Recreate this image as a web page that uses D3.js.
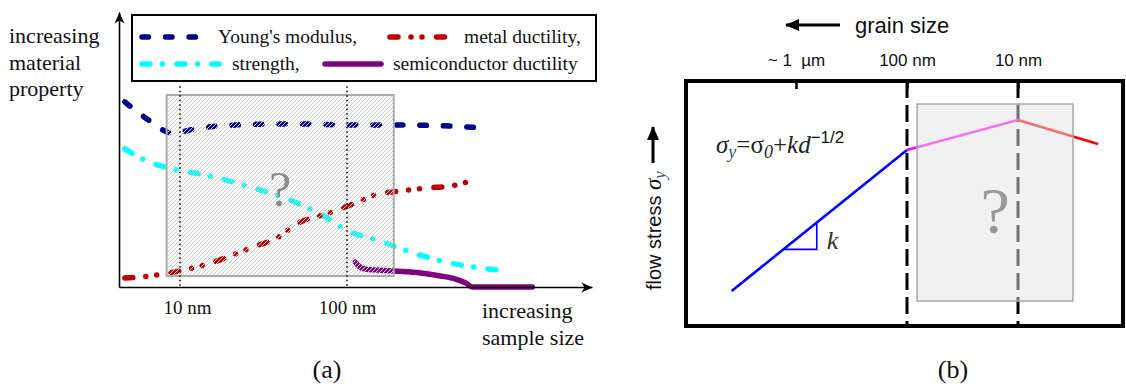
<!DOCTYPE html>
<meta charset="utf-8">
<style>
  body { margin: 0; background: #fff; }
  svg { display: block; }
  .serif { font-family: "Liberation Serif", "Times New Roman", serif; fill: #111; }
  .sans { font-family: "Liberation Sans", Arial, sans-serif; fill: #111; }
  .curve { fill: none; stroke-width: 5.5px; stroke-linecap: round; stroke-linejoin: round; }
</style>
<svg width="1126" height="387"></svg>
<script src="https://d3js.org/d3.v7.min.js"></script>
<script>

// ---------- panel (a) data: x = log10(sample size / nm), y = property (arb. units)
var youngX = [0.67, 0.82, 0.95, 1.12, 1.42, 1.72, 2.02, 2.32, 2.62, 2.84];
var youngY = [67.3, 60.4, 56.0, 57.8, 59.1, 59.3, 58.9, 58.9, 58.5, 57.8];

var strengthX = [0.67, 0.79, 0.93, 1.12, 1.42, 1.66, 1.84, 2.02, 2.20, 2.38, 2.62, 2.80, 2.96];
var strengthY = [50.2, 46.2, 43.3, 41.1, 36.4, 31.6, 26.5, 20.0, 16.7, 12.7, 8.7, 6.9, 5.8];

var metalX = [0.67, 0.82, 0.97, 1.12, 1.27, 1.42, 1.57, 1.72, 1.87, 2.02, 2.17, 2.32, 2.47, 2.62, 2.76];
var metalY = [3.3, 4.0, 5.5, 7.6, 10.5, 14.2, 17.5, 23.6, 26.5, 29.8, 33.5, 34.9, 36.0, 36.7, 38.9];

var semiX = [2.05, 2.07, 2.11, 2.28, 2.44, 2.56, 2.65, 2.71, 2.75, 3.11];
var semiY = [9.1, 7.6, 6.5, 5.8, 5.1, 4.0, 2.9, 1.5, 0, 0];

var legendLabels = ["Young's modulus,", "metal ductility,", "strength,", "semiconductor ductility"];
var sizeTicks = [1, 2];
var sizeTickLabels = ["10 nm", "100 nm"];
var unknownA = {x0: 0.92, x1: 2.28, y0: 4.0, y1: 69.8};

// ---------- panel (b) data: x = grain size (nm), y = flow stress (arb. units)
var grainSize = [3800, 100, 10, 1.9];
var flowStress = [14.3, 71.8, 84.1, 74.3];
var segmentColors = ["#0000ff", "#ff00ff", "#ff0000"];
var grainTicks = [1000, 100, 10];
var grainTickLabels = ["~ 1  \u00b5m", "100 nm", "10 nm"];
var slopeTri = [1300, 650];
var unknownB = {x0: 81, x1: 3.2, y0: 10.2, y1: 90.6};

var svg = d3.select("svg");

var defs = svg.append("defs");
defs.append("marker")
    .attr("id", "arrA")
    .attr("viewBox", "-1 -6 13 12")
    .attr("refX", 11).attr("refY", 0)
    .attr("markerWidth", 13).attr("markerHeight", 12)
    .attr("markerUnits", "userSpaceOnUse")
    .attr("orient", "auto")
  .append("path")
    .attr("d", "M0,-5L11,0L0,5L3,0Z")
    .attr("fill", "#000");
defs.append("marker")
    .attr("id", "arrB")
    .attr("viewBox", "0 -7 14 14")
    .attr("refX", 13).attr("refY", 0)
    .attr("markerWidth", 14).attr("markerHeight", 14)
    .attr("markerUnits", "userSpaceOnUse")
    .attr("orient", "auto")
  .append("path")
    .attr("d", "M0,-6L14,0L0,6Z")
    .attr("fill", "#000");
var hatch = defs.append("pattern")
    .attr("id", "hatch")
    .attr("patternUnits", "userSpaceOnUse")
    .attr("width", 4).attr("height", 4);
hatch.append("path")
    .attr("d", "M-1,1l2,-2M0,4l4,-4M3,5l2,-2")
    .attr("stroke", "#cfcfcf")
    .attr("stroke-width", 1);

// ================= panel (a) =================
var xa = d3.scaleLinear().domain([0.635, 3.467]).range([119, 592]),
    ya = d3.scaleLinear().domain([0, 100]).range([287, 12]);

var gA = svg.append("g");

var lineA = d3.line()
    .x(function(d) { return xa(d[0]); })
    .y(function(d) { return ya(d[1]); })
    .curve(d3.curveMonotoneX);

function zip(xs, ys) { return xs.map(function(v, i) { return [v, ys[i]]; }); }

var seriesA = [
  {x: strengthX, y: strengthY, color: "#00ffff", dash: "8,12.5,0,14.5"},
  {x: metalX, y: metalY, color: "#c00000", dash: "8,13,0,11,0,14.5"},
  {x: youngX, y: youngY, color: "#00008b", dash: "6.5,17"},
  {x: semiX, y: semiY, color: "#800080", dash: null}
];

gA.selectAll("path.curve")
  .data(seriesA)
  .enter().append("path")
    .attr("class", "curve")
    .attr("d", function(s) { return lineA(zip(s.x, s.y)); })
    .style("stroke", function(s) { return s.color; })
    .style("stroke-dasharray", function(s) { return s.dash; });

// hatched "unknown" region
gA.append("rect")
    .attr("x", xa(unknownA.x0))
    .attr("y", ya(unknownA.y1))
    .attr("width", xa(unknownA.x1) - xa(unknownA.x0))
    .attr("height", ya(unknownA.y0) - ya(unknownA.y1))
    .attr("fill", "url(#hatch)")
    .attr("stroke", "#aaa")
    .attr("stroke-width", 2);

gA.append("text")
    .attr("class", "serif")
    .attr("x", xa((unknownA.x0 + unknownA.x1) / 2))
    .attr("y", 206)
    .attr("text-anchor", "middle")
    .style("font-size", "50px")
    .style("fill", "#8a8a8a")
    .text("?");

// dotted reference lines at 10 nm and 100 nm
gA.selectAll("line.ref")
  .data(sizeTicks)
  .enter().append("line")
    .attr("class", "ref")
    .attr("x1", function(d) { return xa(d); })
    .attr("x2", function(d) { return xa(d); })
    .attr("y1", ya(73))
    .attr("y2", ya(0))
    .attr("stroke", "#000")
    .attr("stroke-width", 1.5)
    .attr("stroke-dasharray", "1.5,3");

// axes
var xAxisA = d3.axisBottom(xa)
    .tickValues(sizeTicks)
    .tickFormat(function(d, i) { return sizeTickLabels[i]; })
    .tickSize(0).tickSizeOuter(0).tickPadding(14);
var gx = gA.append("g").attr("transform", "translate(0," + ya(0) + ")").call(xAxisA);
gx.select(".domain").attr("stroke-width", 1.6).attr("marker-end", "url(#arrA)");
gx.selectAll("text")
    .attr("class", "serif")
    .style("font-size", "19px")
    .attr("dx", function(d, i) { return i === 0 ? 7 : 0; });

var yAxisA = d3.axisLeft(ya).tickValues([]).tickSizeOuter(0);
var gy = gA.append("g").attr("transform", "translate(" + xa.range()[0] + ",0)").call(yAxisA);
gy.select(".domain").attr("stroke-width", 1.6).attr("marker-end", "url(#arrA)");

// axis titles
var yTitle = gA.append("text").attr("class", "serif").style("font-size", "22px");
["increasing", "material", "property"].forEach(function(t, i) {
  yTitle.append("tspan").attr("x", 9).attr("y", 43 + i * 26.5).text(t);
});
var xTitle = gA.append("text").attr("class", "serif").style("font-size", "22px");
["increasing", "sample size"].forEach(function(t, i) {
  xTitle.append("tspan").attr("x", 482).attr("y", 318 + i * 27).text(t);
});

// legend
gA.append("rect")
    .attr("x", 132).attr("y", 15)
    .attr("width", 464).attr("height", 66)
    .attr("fill", "#fff")
    .attr("stroke", "#000")
    .attr("stroke-width", 2);

var legendItems = [
  {s: seriesA[2], x1: 142, x2: 199, y: 37, tx: 218},
  {s: seriesA[1], x1: 390, x2: 447, y: 37, tx: 464},
  {s: seriesA[0], x1: 142, x2: 219, y: 64, tx: 232},
  {s: seriesA[3], x1: 325, x2: 381, y: 64, tx: 393}
];
var leg = gA.selectAll("g.legend")
  .data(legendItems)
  .enter().append("g")
    .attr("class", "legend");
leg.append("line")
    .attr("class", "curve")
    .attr("x1", function(d) { return d.x1; })
    .attr("x2", function(d) { return d.x2; })
    .attr("y1", function(d) { return d.y; })
    .attr("y2", function(d) { return d.y; })
    .style("stroke", function(d) { return d.s.color; })
    .style("stroke-dasharray", function(d) { return d.s.dash; });
leg.append("text")
    .attr("class", "serif")
    .attr("x", function(d) { return d.tx; })
    .attr("y", function(d) { return d.y + 6; })
    .style("font-size", "19.5px")
    .text(function(d, i) { return legendLabels[i]; });

gA.append("text")
    .attr("class", "serif")
    .attr("x", 327).attr("y", 378)
    .attr("text-anchor", "middle")
    .style("font-size", "26px")
    .text("(a)");

// ================= panel (b) =================
var xb = d3.scaleLog().domain([1000, 100]).range([796, 907]),
    yb = d3.scaleLinear().domain([0, 100]).range([326, 81]);

var gB = svg.append("g");
var frame = {x0: 686, x1: 1123};

// dashed boundaries at 100 nm and 10 nm
gB.selectAll("line.bound")
  .data([100, 10])
  .enter().append("line")
    .attr("class", "bound")
    .attr("x1", function(d) { return xb(d); })
    .attr("x2", function(d) { return xb(d); })
    .attr("y1", yb(100))
    .attr("y2", yb(0))
    .attr("stroke", "#000")
    .attr("stroke-width", 3)
    .attr("stroke-dasharray", "17,7");

// flow stress segments
var pts = zip(grainSize, flowStress);
gB.selectAll("line.seg")
  .data(d3.pairs(pts))
  .enter().append("line")
    .attr("class", "seg")
    .attr("x1", function(d) { return xb(d[0][0]); })
    .attr("y1", function(d) { return yb(d[0][1]); })
    .attr("x2", function(d) { return xb(d[1][0]); })
    .attr("y2", function(d) { return yb(d[1][1]); })
    .attr("stroke", function(d, i) { return segmentColors[i]; })
    .attr("stroke-width", 2.6);

// Hall-Petch slope triangle, on the blue segment
function hallPetch(d) {
  var t = (Math.log(d) - Math.log(grainSize[0])) / (Math.log(grainSize[1]) - Math.log(grainSize[0]));
  return flowStress[0] + t * (flowStress[1] - flowStress[0]);
}
var triPts = [[slopeTri[0], hallPetch(slopeTri[0])], [slopeTri[1], hallPetch(slopeTri[0])], [slopeTri[1], hallPetch(slopeTri[1])]];
gB.append("path")
    .attr("d", d3.line().x(function(d) { return xb(d[0]); }).y(function(d) { return yb(d[1]); })(triPts))
    .attr("fill", "none")
    .attr("stroke", "#0000ff")
    .attr("stroke-width", 1.6);
gB.append("text")
    .attr("class", "serif")
    .attr("x", xb(slopeTri[1]) + 10)
    .attr("y", yb(hallPetch(slopeTri[0])))
    .style("font-size", "26px")
    .style("font-style", "italic")
    .style("fill", "#333")
    .text("k");

// translucent "unknown" box
gB.append("rect")
    .attr("x", xb(unknownB.x0))
    .attr("y", yb(unknownB.y1))
    .attr("width", xb(unknownB.x1) - xb(unknownB.x0))
    .attr("height", yb(unknownB.y0) - yb(unknownB.y1))
    .attr("fill", "#e4e4e4")
    .attr("fill-opacity", 0.5)
    .attr("stroke", "#a8a8a8")
    .attr("stroke-width", 1.5);
gB.append("text")
    .attr("class", "serif")
    .attr("x", xb(Math.sqrt(unknownB.x0 * unknownB.x1)))
    .attr("y", 233)
    .attr("text-anchor", "middle")
    .style("font-size", "66px")
    .style("fill", "#999")
    .text("?");

// frame
gB.append("rect")
    .attr("x", frame.x0)
    .attr("y", yb(100))
    .attr("width", frame.x1 - frame.x0)
    .attr("height", yb(0) - yb(100))
    .attr("fill", "none")
    .attr("stroke", "#000")
    .attr("stroke-width", 4);

// top axis with grain-size labels
var xAxisB = d3.axisTop(xb)
    .tickValues(grainTicks)
    .tickFormat(function(d, i) { return grainTickLabels[i]; })
    .tickSize(-8).tickSizeOuter(0).tickPadding(15);
var gt = gB.append("g").attr("transform", "translate(0," + yb(100) + ")").call(xAxisB);
gt.select(".domain").remove();
gt.selectAll(".tick line").attr("stroke-width", 2.5);
gt.selectAll("text")
    .attr("class", "sans")
    .style("font-size", "17px")
    .style("white-space", "pre");

// "grain size" arrow
gB.append("line")
    .attr("x1", 840).attr("x2", 786)
    .attr("y1", 25).attr("y2", 25)
    .attr("stroke", "#000")
    .attr("stroke-width", 3)
    .attr("marker-end", "url(#arrB)");
gB.append("text")
    .attr("class", "sans")
    .attr("x", 855).attr("y", 33)
    .style("font-size", "22px")
    .text("grain size");

// y title: flow stress sigma_y with arrow
var yt = gB.append("text")
    .attr("class", "sans")
    .attr("transform", "translate(661,290) rotate(-90)")
    .style("font-size", "20px");
yt.append("tspan").text("flow stress ");
yt.append("tspan").attr("class", "serif").style("font-style", "italic").style("font-size", "23px").text("\u03c3");
yt.append("tspan").attr("class", "serif").style("font-style", "italic").style("font-size", "17px").style("fill", "#2b4f9a").attr("dy", 4).text("y");
gB.append("line")
    .attr("x1", 653).attr("x2", 653)
    .attr("y1", 163).attr("y2", 127)
    .attr("stroke", "#000")
    .attr("stroke-width", 3)
    .attr("marker-end", "url(#arrB)");

// Hall-Petch equation
var eq = gB.append("text")
    .attr("class", "serif")
    .attr("x", 716).attr("y", 153)
    .style("font-size", "25px")
    .style("font-style", "italic")
    .style("fill", "#222");
eq.append("tspan").text("\u03c3");
eq.append("tspan").attr("dy", 5).style("font-size", "18px").style("fill", "#2b4f9a").text("y");
eq.append("tspan").attr("dy", -5).style("font-style", "normal").text("=\u03c3");
eq.append("tspan").attr("dy", 5).style("font-size", "18px").text("0");
eq.append("tspan").attr("dy", -5).style("font-style", "normal").text("+");
eq.append("tspan").text("kd");
eq.append("tspan").attr("dy", -10).attr("class", "sans").style("font-style", "normal").style("font-size", "17px").text("\u22121/2");

gB.append("text")
    .attr("class", "serif")
    .attr("x", 953).attr("y", 378)
    .attr("text-anchor", "middle")
    .style("font-size", "26px")
    .text("(b)");

</script>
